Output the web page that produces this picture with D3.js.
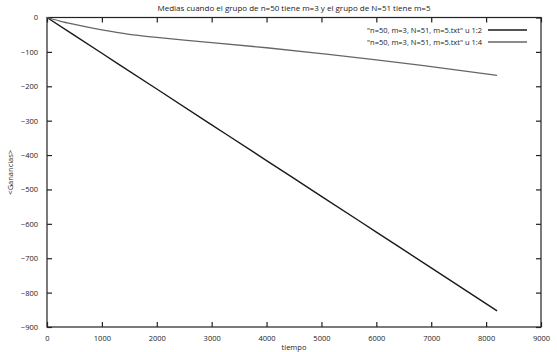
<!DOCTYPE html>
<html><head><meta charset="utf-8">
<script src="https://cdn.jsdelivr.net/npm/d3@7/dist/d3.min.js"></script>
<style>body{margin:0;background:#fff}svg text{font-family:"Open Sans","DejaVu Sans",sans-serif;fill:#222}</style>
</head><body><svg id="c" width="557" height="352"></svg>
<script>
const title = "Medias cuando el grupo de n=50 tiene m=3 y el grupo de N=51 tiene m=5";
const xLabel = "tiempo";
const yLabel = "<Ganancias>";
const seriesNames = ['"n=50, m=3, N=51, m=5.txt" u 1:2', '"n=50, m=3, N=51, m=5.txt" u 1:4'];
const xTicks = [0,1000,2000,3000,4000,5000,6000,7000,8000,9000];
const yTicks = [0,-100,-200,-300,-400,-500,-600,-700,-800,-900];
const tiempo1 = [0,1000,2000,3000,4000,5000,6000,7000,8200];
const ganancias1 = [0,-104,-208,-312,-416,-520,-624,-728,-853];
const tiempo2 = [0,250,500,1000,1500,2000,2500,3000,4000,5000,6000,7000,8200];
const ganancias2 = [0,-11,-20,-36,-49,-58,-66,-73,-88,-105,-123,-143,-168];

const svg = d3.select("#c");
const L=47, R=541, T=17.5, B=327;
const x = d3.scaleLinear().domain([0,9000]).range([L,R]);
const y = d3.scaleLinear().domain([-900,0]).range([B,T]);

svg.append("text").attr("x",(L+R)/2).attr("y",11).attr("text-anchor","middle").attr("font-size",8).text(title);

const ax = svg.append("g").attr("transform",`translate(0,${B})`).call(d3.axisBottom(x).tickValues(xTicks).tickSize(-5).tickPadding(9).tickFormat(d3.format("d")));
const ay = svg.append("g").attr("transform",`translate(${L},0)`).call(d3.axisLeft(y).tickValues(yTicks).tickSize(-5).tickPadding(9).tickFormat(d3.format("d")));
const axT = svg.append("g").attr("transform",`translate(0,${T})`).call(d3.axisTop(x).tickValues(xTicks).tickSize(-5).tickFormat(""));
const ayR = svg.append("g").attr("transform",`translate(${R},0)`).call(d3.axisRight(y).tickValues(yTicks).tickSize(-5).tickFormat(""));
[ax,ay,axT,ayR].forEach(g=>{g.select(".domain").remove();g.selectAll("line").attr("stroke","#222").attr("stroke-width",1.2);g.selectAll("text").attr("font-size",7.5).attr("font-family","'Open Sans',sans-serif").attr("fill","#222");});
svg.append("rect").attr("x",L).attr("y",T).attr("width",R-L).attr("height",B-T).attr("fill","none").attr("stroke","#222").attr("stroke-width",1.2);

svg.append("text").attr("x",(L+R)/2).attr("y",350).attr("text-anchor","middle").attr("font-size",7.5).text(xLabel);
svg.append("text").attr("transform",`translate(13,${(T+B)/2}) rotate(-90)`).attr("text-anchor","middle").attr("font-size",7.5).text(yLabel);

const line = d3.line().x(d=>x(d[0])).y(d=>y(d[1])).curve(d3.curveMonotoneX);
const colors = ["#1a1a1a","#666"];
const widths = [1.4,1.3];
const data = [d3.zip(tiempo1,ganancias1), d3.zip(tiempo2,ganancias2)];
data.forEach((d,i)=>{
  svg.append("path").datum(d).attr("d",line).attr("fill","none").attr("stroke",colors[i]).attr("stroke-width",widths[i]);
});
const lg = svg.append("g");
seriesNames.forEach((n,i)=>{
  const yy = 30 + i*12;
  lg.append("text").attr("x",482).attr("y",yy+2.5).attr("text-anchor","end").attr("font-size",7.5).text(n);
  lg.append("line").attr("x1",488).attr("x2",527).attr("y1",yy).attr("y2",yy).attr("stroke",colors[i]).attr("stroke-width",widths[i]);
});
</script></body></html>
